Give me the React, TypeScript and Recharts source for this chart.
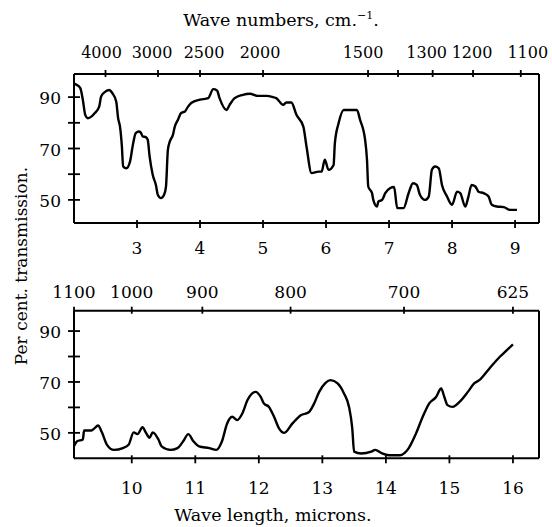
import React from "react";
import { LineChart, Line, XAxis, YAxis } from "recharts";

const FONT = '"DejaVu Serif", serif';

// Upper panel: wavelength (microns) vs per cent transmission
const topWavelength = [
  2.0, 2.04, 2.1, 2.14, 2.18, 2.22, 2.28, 2.33, 2.4, 2.43, 2.48, 2.56, 2.61, 2.67, 2.7, 2.73, 2.76, 2.78, 2.83,
  2.89, 2.93, 2.98, 3.03, 3.06, 3.09, 3.14, 3.17, 3.2, 3.25, 3.3, 3.33, 3.38, 3.43, 3.46, 3.49, 3.52, 3.57,
  3.6, 3.65, 3.7, 3.76, 3.81, 3.86, 4.0, 4.13, 4.21, 4.27, 4.31, 4.42, 4.47, 4.55, 4.68, 4.79, 4.92, 5.05,
  5.16, 5.21, 5.32, 5.37, 5.45, 5.53, 5.64, 5.69, 5.77, 5.88, 5.93, 5.98, 6.04, 6.12, 6.14, 6.2, 6.28, 6.49,
  6.54, 6.62, 6.65, 6.67, 6.73, 6.75, 6.81, 6.83, 6.89, 6.94, 7.02, 7.08, 7.13, 7.23, 7.31, 7.38, 7.44, 7.49,
  7.57, 7.63, 7.68, 7.73, 7.79, 7.84, 7.92, 8.0, 8.08, 8.13, 8.21, 8.26, 8.31, 8.37, 8.42, 8.5, 8.58, 8.63,
  8.71, 8.82, 8.92, 9.03,
];
const topTransmission = [
  95.2, 94.8, 93.5, 89, 83, 81.8, 82.5, 83.8, 86.3, 90.2, 91.8, 92.8, 91.5, 88.3, 81.8, 78.5, 70.8, 63, 62.3,
  65, 70.8, 76, 76.6, 76.2, 74.7, 74.4, 73.4, 66.9, 59.7, 55.8, 52, 50.7, 52, 55.2, 69.5, 72.7, 75.3,
  78.5, 81.2, 83.8, 84.4, 86.3, 87.7, 89, 89.6, 93.1, 92.6, 89.6, 85, 87, 89.6, 90.9, 91.3, 90.5, 90.5,
  90, 89.6, 87, 87.9, 87.9, 83.1, 78.5, 70.8, 60.4, 61, 61, 65.6, 61.7, 63.6, 72, 79.9, 85, 85,
  81.2, 73.4, 65.6, 55.2, 52.6, 50, 47.4, 49.3, 50, 52.6, 54.6, 55, 46.8, 46.8, 52.6, 56.5, 55.8, 52,
  50, 51.3, 61.7, 63, 62.3, 55.8, 51.3, 48.1, 53.2, 52.6, 47.4, 51.3, 55.8, 55.2, 53.2, 52.6, 51.3, 48.1,
  47.4, 47.2, 46.1, 46.1,
];

// Lower panel
const bottomWavelength = [
  9.09, 9.14, 9.23, 9.25, 9.36, 9.4, 9.47, 9.53, 9.61, 9.72, 9.86, 9.95, 10.03, 10.09, 10.17, 10.22, 10.28,
  10.33, 10.42, 10.47, 10.61, 10.72, 10.81, 10.89, 10.97, 11.06, 11.22, 11.33, 11.42, 11.5, 11.58, 11.66,
  11.74, 11.82, 11.95, 12.03, 12.08, 12.16, 12.24, 12.32, 12.4, 12.53, 12.66, 12.79, 12.87, 12.95, 13.05,
  13.13, 13.24, 13.34, 13.42, 13.47, 13.5, 13.61, 13.77, 13.83, 13.94, 14.05, 14.22, 14.36, 14.47, 14.58,
  14.68, 14.79, 14.87, 14.92, 14.97, 15.05, 15.16, 15.29, 15.39, 15.47, 15.63, 15.79, 15.9, 16.0,
];
const bottomTransmission = [
  44.7, 46.7, 47.4, 50.9, 50.9, 51.5, 52.9, 50.2, 45.3, 43.3, 44, 45.3, 50.2, 49.5, 52.2, 50.2, 48.1,
  50.2, 47.4, 44.7, 43.3, 44, 46.7, 49.5, 46.7, 44.7, 44, 43.3, 46.7, 53.6, 56.3, 55,
  57.6, 62.8, 66.1, 64.1, 61.5, 60.2, 56.3, 51.7, 50, 53.7, 56.9, 58.2, 61.5, 66.1, 69.6,
  70.7, 69.4, 65.5, 60.2, 52, 42.6, 41.9, 42.6, 43.3, 41.9, 41.2, 41.2, 44, 49.5, 56.3,
  61.5, 64.1, 67.4, 64.1, 60.9, 60.2, 62.2, 66.1, 69.4, 70.7, 75.3, 79.8, 82.4, 84.8,
];

const topMicronTicks = [3, 4, 5, 6, 7, 8, 9];
const bottomMicronTicks = [10, 11, 12, 13, 14, 15, 16];
const topWavenumberTicks = [4000, 3000, 2500, 2000, 1500, 1400, 1300, 1200, 1100];
const topWavenumberLabels = [4000, 3000, 2500, 2000, 1500, 1300, 1200, 1100];
const bottomWavenumberTicks = [1100, 1000, 900, 800, 700, 625];
const yTicks = [50, 60, 70, 80, 90];
const yLabels = [50, 70, 90];

const topDomain = [2, 9.38];
const bottomDomain = [9.0909, 16.41];
const topY = [41, 99];
const bottomY = [40, 98];

// label nudges (style only) for the crowded upper wave-number scale
const topLabelNudge: Record<number, number> = {
  4000: -4, 3000: -6, 2500: 4, 2000: -3, 1500: -5, 1300: -6, 1200: -1, 1100: 7,
};

const toData = (xs: number[], ys: number[]) => xs.map((x, i) => ({ x, t: ys[i] }));
const topData = toData(topWavelength, topTransmission);
const bottomData = toData(bottomWavelength, bottomTransmission);

const toMicron = (nu: number) => 10000 / nu;
const toNu = (l: number) => Math.round(10000 / l);

const AX = { stroke: "#000", strokeWidth: 2 };

const BottomTick = (fs: number, dy: number) => (p: any) => (
  <g>
    <line x1={p.x} x2={p.x} y1={p.y - 3} y2={p.y + 5} stroke="#000" strokeWidth={1.8} />
    <text x={p.x} y={p.y + dy} textAnchor="middle" dominantBaseline="central" fontSize={fs} fontFamily={FONT} fill="#000">
      {p.payload.value}
    </text>
  </g>
);

const TopTick = (fs: number, dy: number, labels: number[], nudge: Record<number, number>) => (p: any) => {
  const nu = toNu(p.payload.value);
  return (
    <g>
      <line x1={p.x} x2={p.x} y1={p.y - 4} y2={p.y + 3} stroke="#000" strokeWidth={1.8} />
      {labels.includes(nu) ? (
        <text x={p.x + (nudge[nu] || 0)} y={p.y - dy} textAnchor="middle" dominantBaseline="central" fontSize={fs} fontFamily={FONT} fill="#000">
          {nu}
        </text>
      ) : null}
    </g>
  );
};

const LeftTick = (p: any) => (
  <g>
    <line x1={p.x - 6} x2={p.x + 6} y1={p.y} y2={p.y} stroke="#000" strokeWidth={1.8} />
    {yLabels.includes(p.payload.value) ? (
      <text x={p.x - 13} y={p.y + 1} textAnchor="end" dominantBaseline="central" fontSize={17} fontFamily={FONT} fill="#000">
        {p.payload.value}
      </text>
    ) : null}
  </g>
);

function Panel(props: {
  data: { x: number; t: number }[];
  height: number;
  topH: number;
  bottomH: number;
  domain: number[];
  yDomain: number[];
  micronTicks: number[];
  nuTicks: number[];
  nuLabels: number[];
  nuFont: number;
  nuDy: number;
  nuNudge: Record<number, number>;
  micronDy: number;
}) {
  return (
    <LineChart width={552} height={props.height} data={props.data} margin={{ top: 0, right: 0, bottom: 0, left: 0 }}>
      <XAxis
        xAxisId="b"
        dataKey="x"
        type="number"
        orientation="bottom"
        domain={props.domain}
        allowDataOverflow
        ticks={props.micronTicks}
        interval={0}
        height={props.bottomH}
        tickSize={0}
        tickMargin={0}
        tickLine={false}
        axisLine={AX}
        tick={BottomTick(17, props.micronDy)}
      />
      <XAxis
        xAxisId="t"
        dataKey="x"
        type="number"
        orientation="top"
        domain={props.domain}
        allowDataOverflow
        ticks={props.nuTicks.map(toMicron)}
        interval={0}
        height={props.topH}
        tickSize={0}
        tickMargin={0}
        tickLine={false}
        axisLine={AX}
        tick={TopTick(props.nuFont, props.nuDy, props.nuLabels, props.nuNudge)}
      />
      <YAxis
        yAxisId="l"
        type="number"
        domain={props.yDomain}
        allowDataOverflow
        ticks={yTicks}
        interval={0}
        width={74}
        tickSize={0}
        tickMargin={0}
        tickLine={false}
        axisLine={AX}
        tick={LeftTick}
      />
      <YAxis
        yAxisId="r"
        orientation="right"
        type="number"
        domain={props.yDomain}
        allowDataOverflow
        width={13}
        tick={false}
        tickLine={false}
        axisLine={AX}
      />
      <Line
        xAxisId="b"
        yAxisId="l"
        dataKey="t"
        type="monotone"
        stroke="#000"
        strokeWidth={2.4}
        dot={false}
        isAnimationActive={false}
      />
    </LineChart>
  );
}

export default function App() {
  return (
    <div style={{ position: "absolute", left: 0, top: 0, width: 552, height: 527, background: "#fff", fontFamily: FONT, color: "#000" }}>
      <div style={{ position: "absolute", left: 0, top: 0 }}>
        <Panel
          data={topData}
          height={260}
          topH={74}
          bottomH={37}
          domain={topDomain}
          yDomain={topY}
          micronTicks={topMicronTicks}
          nuTicks={topWavenumberTicks}
          nuLabels={topWavenumberLabels}
          nuFont={16}
          nuDy={22}
          nuNudge={topLabelNudge}
          micronDy={25}
        />
      </div>
      <div style={{ position: "absolute", left: 0, top: 260 }}>
        <Panel
          data={bottomData}
          height={267}
          topH={50.7}
          bottomH={68.7}
          domain={bottomDomain}
          yDomain={bottomY}
          micronTicks={bottomMicronTicks}
          nuTicks={bottomWavenumberTicks}
          nuLabels={bottomWavenumberTicks}
          nuFont={17}
          nuDy={19}
          nuNudge={{}}
          micronDy={30}
        />
      </div>
      <div style={{ position: "absolute", left: 0, width: 562, top: 9, textAlign: "center", fontSize: 17.5, lineHeight: "22px", whiteSpace: "nowrap" }}>
        Wave numbers, cm.<span style={{ fontSize: 11, position: "relative", top: -7 }}>−1</span>.
      </div>
      <div style={{ position: "absolute", left: 0, width: 546, top: 504, textAlign: "center", fontSize: 17.5, lineHeight: "22px", whiteSpace: "nowrap" }}>
        Wave length, microns.
      </div>
      <div
        style={{
          position: "absolute",
          left: 21 - 150,
          top: 266 - 11,
          width: 300,
          height: 22,
          lineHeight: "22px",
          textAlign: "center",
          fontSize: 17,
          whiteSpace: "nowrap",
          transform: "rotate(-90deg)",
        }}
      >
        Per cent. transmission.
      </div>
    </div>
  );
}
